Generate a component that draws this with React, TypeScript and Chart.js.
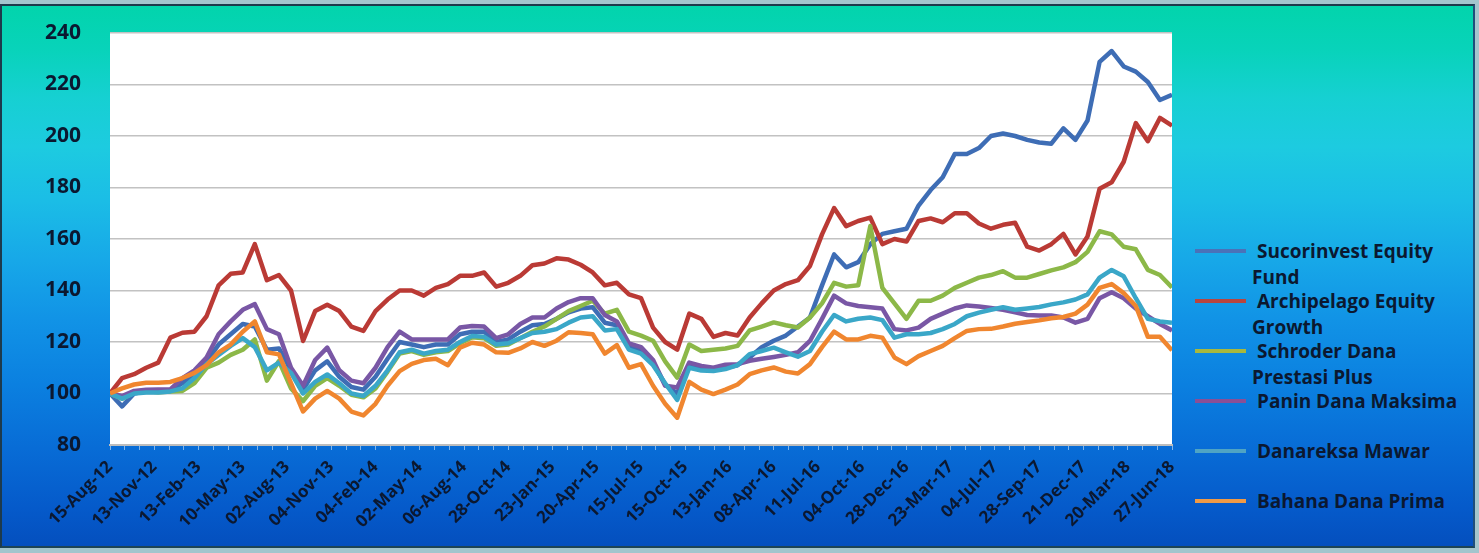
import { useEffect, useRef } from "react";
import { Chart, registerables } from "chart.js";

Chart.register(...registerables);

// ---------- data ----------
const tickLabels = [
  "15-Aug-12", "13-Nov-12", "13-Feb-13", "10-May-13", "02-Aug-13", "04-Nov-13",
  "04-Feb-14", "02-May-14", "06-Aug-14", "28-Oct-14", "23-Jan-15", "20-Apr-15",
  "15-Jul-15", "15-Oct-15", "13-Jan-16", "08-Apr-16", "11-Jul-16", "04-Oct-16",
  "28-Dec-16", "23-Mar-17", "04-Jul-17", "28-Sep-17", "21-Dec-17", "20-Mar-18",
  "27-Jun-18",
];

const seriesNames = [
  "Sucorinvest Equity Fund",
  "Archipelago Equity Growth",
  "Schroder Dana Prestasi Plus",
  "Panin Dana Maksima",
  "Danareksa Mawar",
  "Bahana Dana Prima",
];

const legendLines = [
  ["Sucorinvest Equity", "Fund"],
  ["Archipelago Equity", "Growth"],
  ["Schroder Dana", "Prestasi Plus"],
  ["Panin Dana Maksima"],
  ["Danareksa Mawar"],
  ["Bahana Dana Prima"],
];

const sucorinvest = [
  100, 95, 100, 101, 101, 101, 104, 107.5, 112.5, 119, 123, 127, 126, 117, 117.5, 109,
  101.5, 109, 112.5, 106.5, 102.5, 101.5, 106.5, 113.5, 120, 119, 118, 119, 119, 123,
  124, 124, 120, 121, 124, 126.5, 127, 129, 131.5, 133, 133.5, 127.5, 126.5, 118, 117,
  112, 103.5, 100, 111, 110, 109.5, 110, 111, 114, 118, 120.5, 122.5, 126, 129.5, 142,
  154, 149, 151, 158, 162, 163, 164, 173, 179, 184, 193, 193, 195.3, 200, 201, 200,
  198.5, 197.5, 197, 203, 198.5, 206, 228.8, 233, 227, 225, 221, 214, 216,
];

const archipelago = [
  100, 106, 107.5, 110, 112, 121.7, 123.6, 124, 130, 142, 146.5, 147, 158, 144, 146, 140,
  120.4, 132, 134.5, 132, 126, 124.3, 132, 136.5, 140, 140, 138, 141, 142.5, 145.7,
  145.7, 147, 141.5, 143, 145.7, 149.8, 150.5, 152.5, 152, 150, 147, 142, 143, 138.5,
  137, 125.6, 120, 117, 131, 129, 122, 123.5, 122.5, 129.5, 135, 140, 142.5, 144, 149.5,
  161.8, 172, 165, 167, 168.3, 158, 160, 159, 167, 168, 166.5, 170, 170, 166, 164,
  165.5, 166.3, 157, 155.5, 158, 162, 154, 161, 179.5, 182, 190, 205, 198, 207, 204,
];

const schroder = [
  100, 98, 100.5, 101, 100.5, 100.8, 101, 104, 110, 112, 115, 117, 121, 105, 112.6, 102,
  97, 103, 106, 103, 99.5, 98.5, 102, 108.5, 115.5, 116.5, 115, 116, 116.5, 119.5,
  121.8, 121.5, 118.5, 119, 121.5, 124, 126, 129, 132, 134, 136, 131, 132.5, 124,
  122.5, 120.5, 112.5, 106.2, 119, 116.5, 117, 117.5, 118.5, 124.5, 126, 127.6, 126.5,
  125.6, 129.5, 135, 143, 141.5, 142, 165, 141, 135, 129, 136, 136, 138, 141, 143, 145,
  146, 147.5, 145, 145, 146.4, 147.8, 149, 151, 155, 163, 161.8, 157, 156, 148, 146,
  141.2,
];

const panin = [
  100, 99, 101, 101.5, 101.6, 101.6, 106, 109, 114, 123, 128, 132.5, 134.7, 125, 123, 110,
  103, 113, 117.8, 109, 105, 104, 110, 118, 124, 121, 121, 121, 121, 125.6, 126.2, 126,
  121.5, 123, 127, 129.5, 129.5, 133, 135.5, 137, 137, 130.5, 128, 119.5, 118, 113, 103,
  102.3, 112, 110.7, 110, 111.2, 111.4, 112.7, 113.5, 114.2, 115, 116, 120.4, 129, 138,
  135, 134, 133.5, 133, 125, 124.5, 125.6, 129, 131, 133, 134.2, 133.8, 133.2, 132.5,
  131.5, 130.5, 130.3, 130.3, 129.5, 127.5, 129, 137, 139.3, 137, 133, 130, 127, 124.5,
];

const danareksa = [
  100, 98, 100, 100.4, 100.4, 100.8, 102, 106, 111.4, 115, 118.5, 121.5, 118, 109, 112,
  108, 100, 104.5, 107.4, 104, 100, 99, 103, 109, 116, 117, 115.5, 116.5, 117, 120,
  122.3, 122, 119, 119.5, 121.5, 123.5, 124, 125, 127.5, 129.5, 130, 124.5, 125, 117,
  115.5, 111, 104, 97.5, 110, 108.9, 108.7, 109.5, 111, 115.3, 116.5, 117.8, 116, 114.3,
  116.5, 124, 130.5, 128, 129, 129.5, 128.5, 121.7, 123, 123, 123.5, 125, 127, 130,
  131.4, 132.5, 133.5, 132.5, 133, 133.6, 134.6, 135.4, 136.5, 138.5, 145, 148, 145.5,
  137, 129, 128, 127.5,
];

const bahana = [
  100, 102, 103.5, 104.2, 104.2, 104.5, 106, 108, 111, 116, 119, 124, 128, 116, 115.2,
  104, 93, 98, 101, 98, 93, 91.5, 96, 103, 108.7, 111.5, 113, 113.5, 111, 117.8, 119.7,
  119, 116, 115.8, 117.5, 120, 118.5, 120.5, 123.8, 123.5, 123, 115.5, 118.8, 110,
  111.4, 103, 96, 90.6, 104.5, 101.5, 99.8, 101.5, 103.5, 107.5, 109, 110.1, 108.5,
  107.8, 111.4, 118, 124, 121, 121, 122.4, 121.7, 114, 111.4, 114.5, 116.5, 118.5,
  121.5, 124.3, 125, 125.1, 126, 127.1, 127.8, 128.4, 129.2, 129.7, 131, 134.5, 141,
  142.5, 139, 134, 122, 122, 116.8,
];

const seriesValues = [sucorinvest, archipelago, schroder, panin, danareksa, bahana];
const seriesColors = ["#3E6DB5", "#BA3A35", "#8CB848", "#7957A5", "#3AA7C8", "#F0862F"];
const legendColors = ["#4A72B8", "#B8453F", "#A8B83E", "#8A4F96", "#4FA4C4", "#F09A45"];

const yTicks = { min: 80, max: 240, step: 20 };
const minorPerLabel = 3;

// ---------- component ----------
const TEXT = "#0b1830";
const FONT = "'Open Sans', 'DejaVu Sans', sans-serif";

const plotBg = {
  id: "plotBg",
  beforeDraw(c: any) {
    const { ctx, chartArea: a } = c;
    if (!a) return;
    ctx.save();
    ctx.fillStyle = "#ffffff";
    ctx.fillRect(a.left, a.top, a.right - a.left, a.bottom - a.top);
    ctx.restore();
  },
};

export default function App() {
  const ref = useRef<HTMLCanvasElement>(null);

  useEffect(() => {
    document.body.style.margin = "0";
    const n = sucorinvest.length;
    const xs = sucorinvest.map((_, i) => i);
    const minorCount = (tickLabels.length - 1) * minorPerLabel + 1;
    const chart = new Chart(ref.current!, {
      type: "line",
      data: {
        labels: xs,
        datasets: seriesNames.map((name, k) => ({
          label: name,
          data: seriesValues[k],
          borderColor: seriesColors[k],
          backgroundColor: seriesColors[k],
          borderWidth: 4.5,
          pointRadius: 0,
          tension: 0,
          fill: false,
          borderJoinStyle: "round" as const,
          order: seriesNames.length - k,
        })),
      },
      options: {
        responsive: true,
        maintainAspectRatio: false,
        animation: false,
        layout: { padding: { top: 33, right: 8, left: 0, bottom: 0 } },
        plugins: {
          legend: { display: false },
          tooltip: { enabled: false },
        },
        scales: {
          x: {
            type: "linear",
            min: 0,
            max: n - 1,
            afterBuildTicks: (s: any) => {
              s.ticks = Array.from({ length: minorCount }, (_, j) => ({
                value: (j * (n - 1)) / (minorCount - 1),
              }));
            },
            afterFit: (s: any) => {
              s.height = 108;
              s.paddingLeft = 0;
              s.paddingRight = 0;
            },
            grid: {
              drawOnChartArea: false,
              drawTicks: true,
              tickLength: 5,
              color: "rgba(170,205,240,0.75)",
              lineWidth: 1,
            },
            border: { display: true, color: "#bdbdbd", width: 2 },
            ticks: {
              autoSkip: false,
              minRotation: 45,
              maxRotation: 45,
              padding: 7,
              color: TEXT,
              font: { family: FONT, weight: "bold", size: 17 },
              callback: (_v: any, i: number) =>
                i % minorPerLabel === 0 ? tickLabels[i / minorPerLabel] : "",
            },
          },
          y: {
            min: yTicks.min,
            max: yTicks.max,
            afterFit: (s: any) => {
              s.width = 110;
              s.paddingTop = 0;
              s.paddingBottom = 0;
            },
            grid: { color: "#c2c2c2", lineWidth: 1.5, drawTicks: false },
            border: { display: false },
            ticks: {
              stepSize: yTicks.step,
              padding: 29,
              color: TEXT,
              font: { family: FONT, weight: "bold", size: 21 },
            },
          },
        },
      },
      plugins: [plotBg],
    });
    return () => chart.destroy();
  }, []);

  const legendTop = 251;
  const legendGap = 50;

  return (
    <div
      style={{
        position: "relative",
        width: 1479,
        height: 553,
        overflow: "hidden",
        background: "#a3c5cd",
        fontFamily: FONT,
      }}
    >
      <div
        style={{
          position: "absolute",
          left: 0,
          top: 4,
          width: 1475,
          height: 544,
          boxSizing: "border-box",
          borderLeft: "2px solid #1d3a4c",
          borderTop: "2px solid #1d3a4c",
          borderRight: "2px solid #1f4e7a",
          borderBottom: "2px solid #1d4455",
          background:
            "linear-gradient(to bottom, #02D4AC 0%, #08D3BA 8%, #16D0D2 17%, #1DCBE0 26%, #1BBDE6 36%, #17A8E8 47%, #1193E6 58%, #0B80E0 70%, #086CD6 82%, #055ACA 93%, #044FBE 100%)",
        }}
      />
      <div style={{ position: "absolute", left: 0, top: 0, width: 1180, height: 553 }}>
        <canvas ref={ref} />
      </div>
      {legendLines.map((lines, k) => {
        const cy = legendTop + k * legendGap;
        return (
          <div key={k}>
            <div
              style={{
                position: "absolute",
                left: 1195,
                top: cy - 2,
                width: 51,
                height: 4,
                background: legendColors[k],
              }}
            />
            {lines.map((t, j) => (
              <div
                key={j}
                style={{
                  position: "absolute",
                  left: j === 0 ? 1257 : 1252,
                  top: cy + j * 26 - 13,
                  height: 26,
                  lineHeight: "26px",
                  fontSize: 19,
                  fontWeight: 700,
                  color: TEXT,
                  whiteSpace: "nowrap",
                }}
              >
                {t}
              </div>
            ))}
          </div>
        );
      })}
    </div>
  );
}
